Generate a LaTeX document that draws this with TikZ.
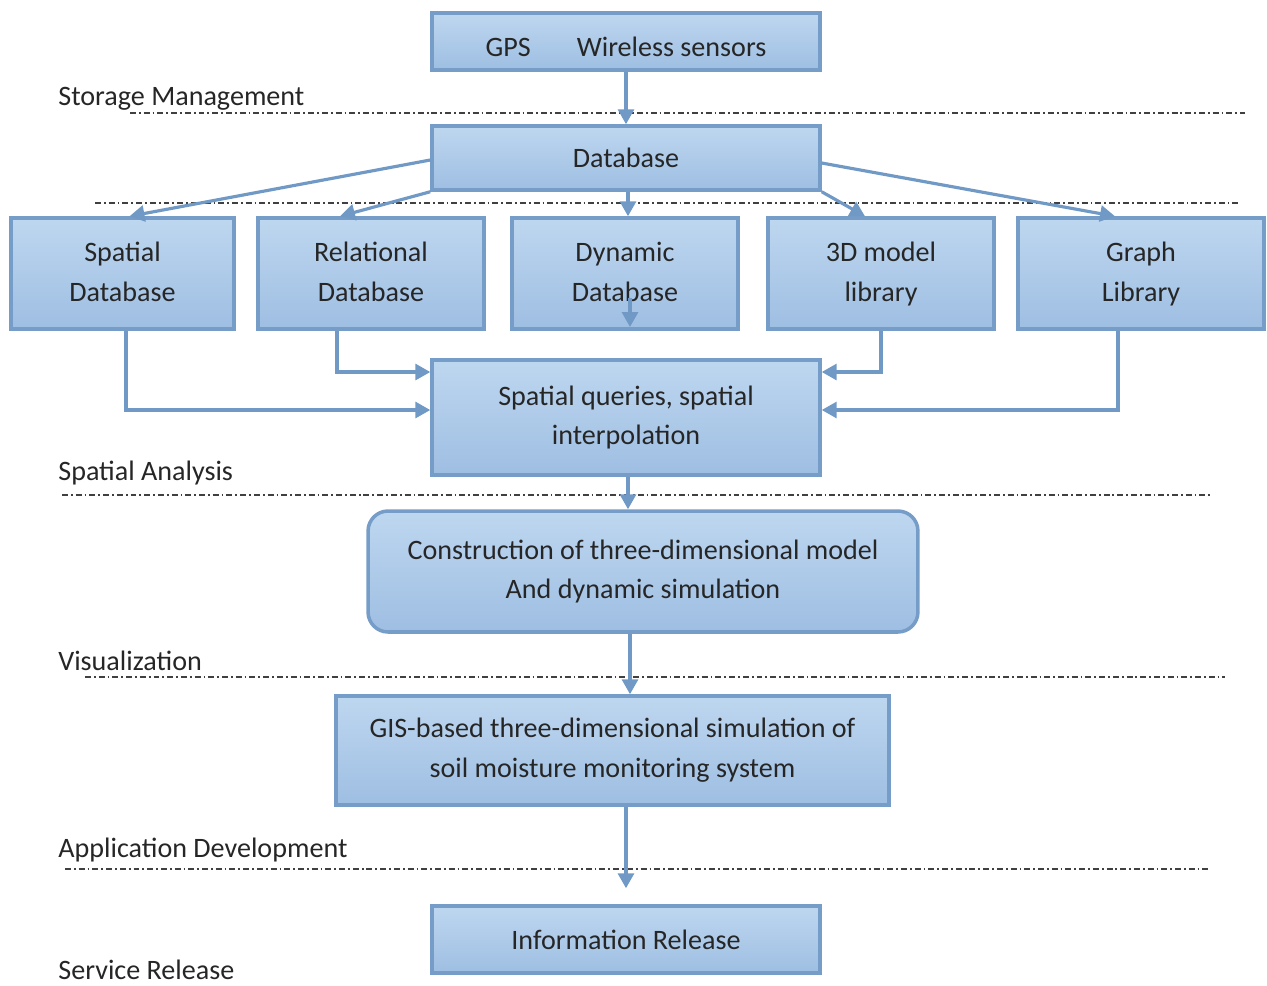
\documentclass[tikz,border=0pt]{standalone}
\usepackage{fontspec}
\setmainfont{Carlito}
\usepackage{tikz}
\usetikzlibrary{arrows.meta,shapes,positioning,calc}
\definecolor{boxline}{RGB}{118,156,200}
\definecolor{boxtop}{RGB}{190,215,240}
\definecolor{boxbot}{RGB}{158,190,226}
\definecolor{flow}{RGB}{112,153,198}
\tikzset{
	block/.style={
		rectangle,
		line width=2pt,
		draw=boxline,
		top color=boxtop,
		bottom color=boxbot,
		align=center,
		text=black!85,
		font=\fontsize{16}{22.7}\selectfont,
	},
	layer/.style={
		anchor=west,
		inner sep=0pt,
		text=black!85,
		font=\fontsize{16}{19}\selectfont,
	},
	sep/.style={
		line width=1pt,
		black!75,
		dash pattern=on 3.4pt off 1.7pt on 1pt off 1.7pt,
	},
}

\begin{document}
\begin{tikzpicture}[x=0.02cm, y=-0.02cm, >={Triangle[length=0.3cm,width=0.32cm]}]

	\tikzstyle{flowline}=[line width=1.8pt,draw=flow,->]

	\useasboundingbox (0,0) rectangle (1267,985);

	% layer separators
	\draw [sep] (130,113) -- (1245,113);
	\draw [sep] (95,203) -- (1240,203);
	\draw [sep] (62,495) -- (1210,495);
	\draw [sep] (85,677) -- (1225,677);
	\draw [sep] (65,869) -- (1210,869);

	\node [layer] (lstore) at (58,99) {Storage Management};
	\node [layer] (lana) at (58,473) {Spatial Analysis};
	\node [layer] (lvis) at (58,661) {Visualization};
	\node [layer] (lapp) at (58,850) {Application Development};
	\node [layer] (lserv) at (58,970) {Service Release};

	% boxes
	\node [block, minimum width=7.76cm, minimum height=1.14cm, text height=0.68cm, text depth=0.1cm] (gps) at (626,41.5) {GPS\hspace{0.92cm}Wireless sensors};
	\node [block, minimum width=7.76cm, minimum height=1.28cm] (db) at (626,158) {Database};

	\node [block, minimum width=4.46cm, minimum height=2.22cm] (sdb) at (122.5,273.5) {Spatial\strut\\Database\strut};
	\node [block, minimum width=4.52cm, minimum height=2.22cm] (rdb) at (371,273.5) {Relational\strut\\Database\strut};
	\node [block, minimum width=4.52cm, minimum height=2.22cm] (ddb) at (625,273.5) {Dynamic\strut\\Database\strut};
	\node [block, minimum width=4.52cm, minimum height=2.22cm] (mdl) at (881,273.5) {3D model\strut\\library\strut};
	\node [block, minimum width=4.92cm, minimum height=2.22cm] (glib) at (1141,273.5) {Graph\strut\\Library\strut};

	\node [block, minimum width=7.76cm, minimum height=2.3cm] (sq) at (626,417.5) {Spatial queries, spatial\\interpolation};
	\node [block, rounded corners=0.4cm, minimum width=11cm, minimum height=2.42cm] (cons) at (643,571.5) {Construction of three-dimensional model\\And dynamic simulation};
	\node [block, minimum width=11.06cm, minimum height=2.18cm] (gis) at (612.5,750.5) {GIS-based three-dimensional simulation of\\soil moisture monitoring system};
	\node [block, minimum width=7.76cm, minimum height=1.34cm] (info) at (626,939.5) {Information Release};

	\coordinate (dtop) at (630,298);
	\coordinate (dbot) at (630,327);
	\coordinate (dbout) at ($(db.south)+(2,0)$);
	\coordinate (sqout) at ($(sq.south)+(2,0)$);
	\coordinate (consout) at ($(cons.south)+(-13,0)$);

	% connectors
	\draw [flowline] (gps) -- (db);
	\draw [flowline] ($(db.west)+(0,2)$) -- ($(sdb.north)+(7,0)$);
	\draw [flowline] (db.south west) -- ($(rdb.north)+(-31,0)$);
	\draw [flowline] (dbout) -- (dbout |- ddb.north);
	\draw [flowline] (db.south east) -- ($(mdl.north)+(-16,0)$);
	\draw [flowline] ($(db.east)+(0,5)$) -- ($(glib.north)+(-26,0)$);
	\draw [flowline] (dtop) -- (dbot);

	\draw [flowline] ($(sdb.south)+(3.5,0)$) |- ($(sq.west)+(0,-7.5)$);
	\draw [flowline] ($(rdb.south)+(-34,0)$) |- ($(sq.west)+(0,-45.5)$);
	\draw [flowline] (mdl.south) |- ($(sq.east)+(0,-45.5)$);
	\draw [flowline] ($(glib.south)+(-23,0)$) |- ($(sq.east)+(0,-7.5)$);

	\draw [flowline] (sqout) -- (sqout |- cons.north);
	\draw [flowline] (consout) -- (consout |- gis.north);
	\draw [flowline, shorten >=0.32cm] (info.north |- gis.south) -- (info.north);

\end{tikzpicture}
\end{document}
